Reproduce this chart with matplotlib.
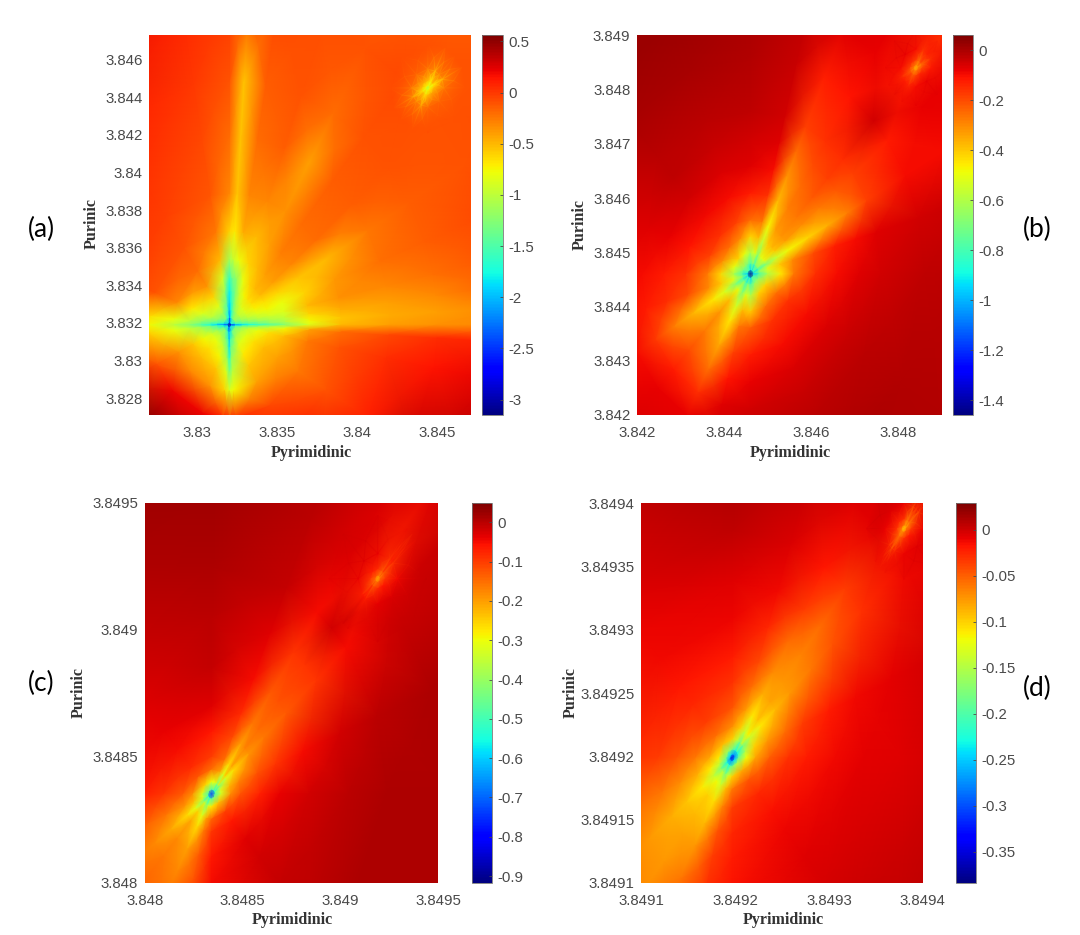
import matplotlib
matplotlib.use("Agg")
import matplotlib.pyplot as plt
import numpy as np

W, H = 1080, 935

# Every surface is read from the picture along rays leaving a dip: one row per
# angle (degrees, data axes), one column per distance from the dip.

# Panel (a)
a_center = (3.832, 3.8319)
a_r = [0, .00015, .0004, .0008, .0012, .0018, .0025, .0035, .005, .007, .010, .013, .017, .022]
a_theta = [0, 3, 7, 12, 20, 30, 40, 50, 60, 70, 80, 86, 90, 100, 125, 160, 175, 180, 185, 205, 225, 250, 265, 270, 275, 300, 330, 350, 357, 360]
a_z = [
[-3.1,-2.6,-2.2,-1.9,-1.75,-1.6,-1.45,-1.25,-.85,-.5,-.4,-.35,-.3,-.15],
[-3.1,-2.4,-1.9,-1.6,-1.5,-1.35,-1.2,-1.05,-.75,-.55,-.45,-.4,-.3,-.12],
[-3.1,-2.2,-1.7,-1.45,-1.3,-1.15,-1.05,-.95,-.6,-.45,-.4,-.32,-.15,-.05],
[-3.1,-2.0,-1.55,-1.3,-1.15,-1.0,-.9,-.85,-.5,-.35,-.3,-.22,-.1,0],
[-3.1,-1.9,-1.4,-1.15,-1.0,-.85,-.75,-.8,-.6,-.38,-.22,-.15,-.05,0],
[-3.1,-1.8,-1.3,-1.05,-.9,-.72,-.65,-.6,-.55,-.5,-.25,-.15,-.1,-.05],
[-3.1,-1.8,-1.25,-1.0,-.85,-.65,-.5,-.4,-.3,-.2,-.15,-.1,-.1,-.1],
[-3.1,-1.8,-1.25,-1.0,-.85,-.65,-.5,-.4,-.28,-.2,-.15,-.1,-.05,-.15],
[-3.1,-1.9,-1.35,-1.1,-.95,-.75,-.6,-.5,-.4,-.35,-.4,-.2,-.1,-.15],
[-3.1,-2.0,-1.5,-1.25,-1.1,-.95,-.8,-.6,-.5,-.3,-.15,-.1,-.08,-.08],
[-3.1,-2.2,-1.75,-1.55,-1.45,-1.35,-1.2,-.8,-.45,-.3,-.2,-.15,-.05,-.02],
[-3.1,-2.4,-2.0,-1.8,-1.7,-1.55,-1.35,-.95,-.7,-.55,-.55,-.55,-.1,-.03],
[-3.1,-2.6,-2.2,-2.0,-1.9,-1.8,-1.6,-1.1,-.6,-.3,-.2,-.1,0,.03],
[-3.1,-2.2,-1.75,-1.5,-1.35,-1.15,-.9,-.5,-.25,-.12,-.05,0,.08,.1],
[-3.1,-1.85,-1.3,-1.05,-.85,-.6,-.35,-.2,-.1,-.03,.05,.12,.25,.3],
[-3.1,-2.0,-1.5,-1.2,-1.0,-.85,-.7,-.3,-.1,0,.05,.1,.2,.3],
[-3.1,-2.2,-1.8,-1.55,-1.4,-1.2,-1.0,-.8,-.65,-.5,-.5,-.5,-.5,-.5],
[-3.1,-2.6,-2.2,-1.9,-1.7,-1.45,-1.2,-1.0,-.75,-.6,-.6,-.6,-.6,-.6],
[-3.1,-2.2,-1.8,-1.5,-1.3,-1.1,-.95,-.8,-.6,-.5,-.5,-.5,-.5,-.5],
[-3.1,-1.9,-1.4,-1.1,-.9,-.75,-.55,-.35,-.1,.3,.3,.3,.3,.3],
[-3.1,-1.8,-1.25,-1.0,-.8,-.65,-.5,-.3,.2,.5,.5,.5,.5,.5],
[-3.1,-2.0,-1.5,-1.2,-.95,-.75,-.55,-.35,.2,.4,.4,.4,.4,.4],
[-3.1,-2.3,-1.85,-1.55,-1.35,-1.1,-.85,-.6,.1,.3,.3,.3,.3,.3],
[-3.1,-2.6,-2.2,-2.0,-1.85,-1.6,-1.3,-.85,.05,.2,.2,.2,.2,.2],
[-3.1,-2.3,-1.85,-1.55,-1.35,-1.15,-1.0,-.75,.05,.15,.15,.15,.15,.15],
[-3.1,-1.9,-1.35,-1.05,-.85,-.7,-.55,-.4,-.05,.15,.2,.2,.2,.2],
[-3.1,-1.85,-1.25,-1.0,-.82,-.65,-.5,-.4,-.25,-.1,.1,.35,.45,.45],
[-3.1,-2.0,-1.45,-1.15,-.95,-.8,-.65,-.5,-.25,-.1,.05,.15,.25,.3],
[-3.1,-2.3,-1.8,-1.5,-1.3,-1.1,-.95,-.75,-.4,-.2,-.05,.05,.1,.15],
[-3.1,-2.6,-2.2,-1.9,-1.75,-1.6,-1.45,-1.25,-.85,-.5,-.4,-.35,-.3,-.15],
]
a2_center = (3.8444, 3.8445)
a2_r = [0, .00015, .0004, .001, .0024]
a2_theta = [0, 27, 45, 63, 90, 135, 180, 207, 225, 246, 270, 315, 360]
a2_z = [
[-1.0,-.75,-.5,-.3,-.15],
[-1.0,-.85,-.7,-.5,-.3],
[-1.0,-.75,-.5,-.35,-.2],
[-1.0,-.85,-.7,-.5,-.3],
[-1.0,-.75,-.5,-.3,-.1],
[-1.0,-.7,-.42,-.22,-.12],
[-1.0,-.75,-.5,-.3,-.12],
[-1.0,-.85,-.65,-.45,-.18],
[-1.0,-.75,-.5,-.35,-.15],
[-1.0,-.85,-.65,-.45,-.15],
[-1.0,-.75,-.5,-.25,-.07],
[-1.0,-.7,-.4,-.2,-.1],
[-1.0,-.75,-.5,-.3,-.15],
]
a_xticks = [3.83, 3.835, 3.84, 3.845]
a_xlabels = ["3.83", "3.835", "3.84", "3.845"]
a_yticks = [3.828, 3.83, 3.832, 3.834, 3.836, 3.838, 3.84, 3.842, 3.844, 3.846]
a_ylabels = ["3.828", "3.83", "3.832", "3.834", "3.836", "3.838", "3.84", "3.842", "3.844", "3.846"]
a_cticks = [0.5, 0, -0.5, -1, -1.5, -2, -2.5, -3]
a_clabels = ["0.5", "0", "-0.5", "-1", "-1.5", "-2", "-2.5", "-3"]

# Panel (b)
b_center = (3.8446, 3.8446)
b_r = [0, .00008, .0002, .0004, .0007, .001, .0015, .002, .0025, .003, .004, .005, .0063]
b_theta = [0, 15, 27, 38, 45, 55, 65, 75, 90, 110, 135, 160, 180, 195, 209, 225, 241, 255, 270, 300, 330, 360]
b_z = [
[-1.45,-.95,-.78,-.6,-.45,-.27,-.15,-.1,-.07,-.05,-.03,-.02,-.02],
[-1.45,-.85,-.7,-.52,-.4,-.3,-.2,-.13,-.1,-.07,-.05,-.04,-.03],
[-1.45,-.95,-.8,-.68,-.55,-.48,-.42,-.36,-.28,-.18,-.1,-.1,-.07],
[-1.45,-.85,-.7,-.52,-.4,-.33,-.3,-.27,-.22,-.18,-.12,-.08,-.08],
[-1.45,-.85,-.7,-.5,-.38,-.32,-.27,-.22,-.18,-.15,-.05,-.12,-.15],
[-1.45,-.85,-.7,-.52,-.4,-.33,-.28,-.25,-.2,-.16,-.11,-.08,-.06],
[-1.45,-.95,-.8,-.68,-.55,-.47,-.38,-.32,-.25,-.18,-.13,-.07,-.05],
[-1.45,-.85,-.7,-.52,-.38,-.27,-.16,-.1,-.07,-.05,-.04,-.03,-.03],
[-1.45,-.95,-.78,-.6,-.42,-.25,-.12,-.07,-.05,-.03,-.01,0,0],
[-1.45,-.85,-.7,-.5,-.3,-.18,-.1,-.06,-.04,-.02,0,.02,.02],
[-1.45,-.8,-.65,-.42,-.25,-.16,-.09,-.05,-.03,-.02,0,.02,.02],
[-1.45,-.85,-.7,-.5,-.3,-.18,-.11,-.08,-.07,-.06,-.05,-.05,-.05],
[-1.45,-.95,-.78,-.6,-.42,-.27,-.16,-.12,-.1,-.09,-.07,-.05,-.05],
[-1.45,-.85,-.7,-.52,-.4,-.3,-.2,-.15,-.12,-.1,-.08,-.06,-.06],
[-1.45,-.95,-.8,-.68,-.52,-.45,-.37,-.28,-.17,-.1,-.08,-.06,-.06],
[-1.45,-.85,-.7,-.5,-.38,-.32,-.27,-.2,-.12,-.08,-.06,-.05,-.05],
[-1.45,-.95,-.8,-.68,-.53,-.45,-.35,-.26,-.15,-.08,-.06,-.05,-.05],
[-1.45,-.85,-.7,-.52,-.38,-.27,-.18,-.11,-.07,-.05,-.05,-.05,-.05],
[-1.45,-.95,-.78,-.6,-.4,-.23,-.12,-.08,-.05,-.04,-.04,-.04,-.04],
[-1.45,-.8,-.65,-.42,-.25,-.16,-.1,-.06,-.04,-.02,0,0,0],
[-1.45,-.8,-.65,-.42,-.25,-.16,-.1,-.06,-.04,-.02,-.01,-.01,-.01],
[-1.45,-.95,-.78,-.6,-.45,-.27,-.15,-.1,-.07,-.05,-.03,-.02,-.02],
]
b2_center = (3.8484, 3.8484)
b2_r = [0, .00006, .00015, .00035, .0007]
b2_theta = [0, 27, 45, 63, 90, 135, 180, 207, 225, 243, 270, 315, 360]
b2_z = [
[-.38,-.28,-.2,-.12,-.07],
[-.38,-.32,-.25,-.17,-.1],
[-.38,-.28,-.2,-.14,-.09],
[-.38,-.32,-.25,-.17,-.12],
[-.38,-.28,-.18,-.1,-.06],
[-.38,-.25,-.15,-.08,-.05],
[-.38,-.28,-.18,-.1,-.07],
[-.38,-.3,-.22,-.15,-.08],
[-.38,-.28,-.2,-.13,-.07],
[-.38,-.3,-.22,-.15,-.08],
[-.38,-.28,-.18,-.1,-.07],
[-.38,-.25,-.14,-.08,-.06],
[-.38,-.28,-.2,-.12,-.07],
]
b_xticks = [3.842, 3.844, 3.846, 3.848]
b_xlabels = ["3.842", "3.844", "3.846", "3.848"]
b_yticks = [3.842, 3.843, 3.844, 3.845, 3.846, 3.847, 3.848, 3.849]
b_ylabels = ["3.842", "3.843", "3.844", "3.845", "3.846", "3.847", "3.848", "3.849"]
b_cticks = [0, -0.2, -0.4, -0.6, -0.8, -1, -1.2, -1.4]
b_clabels = ["0", "-0.2", "-0.4", "-0.6", "-0.8", "-1", "-1.2", "-1.4"]

# Panel (c)
c_center = (3.84834, 3.84835)
c_r = [0, .00002, .00005, .0001, .00015, .00025, .00035, .0005, .0007, .0009, .0012, .0017]
c_theta = [0, 20, 40, 47, 53, 65, 90, 135, 180, 200, 214, 225, 240, 255, 270, 315, 360]
c_z = [
[-.75,-.48,-.33,-.18,-.12,-.07,-.04,-.02,0,.01,.01,.01],
[-.75,-.47,-.33,-.22,-.17,-.12,-.09,-.05,-.02,0,.01,.01],
[-.75,-.55,-.42,-.32,-.26,-.19,-.16,-.13,-.09,-.05,-.02,-.01],
[-.75,-.48,-.34,-.25,-.21,-.17,-.15,-.12,-.09,-.02,-.08,-.03],
[-.75,-.55,-.42,-.32,-.26,-.2,-.16,-.13,-.09,-.05,-.03,-.02],
[-.75,-.47,-.32,-.2,-.15,-.11,-.08,-.05,-.03,-.01,0,.01],
[-.75,-.48,-.3,-.15,-.1,-.06,-.03,-.01,0,.01,.02,.03],
[-.75,-.42,-.25,-.12,-.08,-.05,-.04,-.03,-.02,-.01,.01,.03],
[-.75,-.48,-.32,-.18,-.13,-.09,-.07,-.05,-.05,-.05,-.05,-.05],
[-.75,-.47,-.33,-.23,-.19,-.16,-.14,-.12,-.1,-.08,-.07,-.07],
[-.75,-.55,-.42,-.31,-.26,-.21,-.18,-.15,-.13,-.11,-.1,-.1],
[-.75,-.48,-.34,-.25,-.21,-.18,-.16,-.14,-.12,-.11,-.1,-.1],
[-.75,-.55,-.42,-.31,-.26,-.2,-.18,-.15,-.12,-.1,-.1,-.1],
[-.75,-.47,-.32,-.2,-.16,-.13,-.12,-.1,-.08,-.07,-.07,-.07],
[-.75,-.48,-.28,-.14,-.09,-.06,-.05,-.05,-.05,-.05,-.05,-.05],
[-.75,-.42,-.23,-.1,-.06,-.03,-.02,-.01,0,.01,.01,.01],
[-.75,-.48,-.33,-.18,-.12,-.07,-.04,-.02,0,.01,.01,.01],
]
c2_center = (3.84919, 3.8492)
c2_r = [0, .000015, .00004, .0001, .00025]
c2_theta = [0, 38, 45, 52, 90, 135, 180, 218, 225, 232, 270, 315, 360]
c2_z = [
[-.22,-.14,-.09,-.05,-.01],
[-.22,-.17,-.13,-.09,-.05],
[-.22,-.14,-.1,-.07,-.1],
[-.22,-.17,-.13,-.09,-.05],
[-.22,-.14,-.08,-.04,-.01],
[-.22,-.12,-.07,-.03,-.01],
[-.22,-.14,-.09,-.04,-.02],
[-.22,-.16,-.12,-.07,-.03],
[-.22,-.14,-.09,-.06,0],
[-.22,-.16,-.12,-.07,-.03],
[-.22,-.14,-.08,-.04,-.01],
[-.22,-.12,-.06,-.03,-.01],
[-.22,-.14,-.09,-.05,-.01],
]
c_xticks = [3.848, 3.8485, 3.849, 3.8495]
c_xlabels = ["3.848", "3.8485", "3.849", "3.8495"]
c_yticks = [3.848, 3.8485, 3.849, 3.8495]
c_ylabels = ["3.848", "3.8485", "3.849", "3.8495"]
c_cticks = [0, -0.1, -0.2, -0.3, -0.4, -0.5, -0.6, -0.7, -0.8, -0.9]
c_clabels = ["0", "-0.1", "-0.2", "-0.3", "-0.4", "-0.5", "-0.6", "-0.7", "-0.8", "-0.9"]

# Panel (d)
d_center = (3.849197, 3.849199)
d_r = [0, .000003, .000007, .000015, .000025, .00004, .00006, .00008, .00011, .00014, .00018, .00024, .0003]
d_theta = [0, 20, 40, 48, 57, 70, 90, 135, 180, 200, 216, 228, 240, 255, 270, 315, 360]
d_z = [
[-.35,-.26,-.19,-.12,-.08,-.05,-.03,-.02,-.012,-.008,-.005,0,0],
[-.35,-.27,-.21,-.15,-.1,-.075,-.055,-.035,-.02,-.012,-.007,0,0],
[-.35,-.28,-.23,-.18,-.14,-.11,-.09,-.075,-.06,-.045,-.03,-.012,-.005],
[-.35,-.27,-.21,-.15,-.115,-.095,-.08,-.075,-.065,-.055,-.035,-.008,0],
[-.35,-.28,-.23,-.18,-.14,-.11,-.085,-.07,-.055,-.035,-.018,-.005,0],
[-.35,-.27,-.21,-.14,-.1,-.075,-.055,-.04,-.025,-.012,-.004,.005,.01],
[-.35,-.26,-.18,-.1,-.07,-.045,-.03,-.02,-.01,-.005,.005,.015,.018],
[-.35,-.24,-.16,-.09,-.055,-.035,-.025,-.018,-.012,-.01,-.006,-.003,-.003],
[-.35,-.25,-.18,-.11,-.08,-.06,-.045,-.035,-.03,-.03,-.03,-.03,-.03],
[-.35,-.27,-.2,-.14,-.11,-.085,-.07,-.06,-.055,-.05,-.05,-.05,-.05],
[-.35,-.28,-.23,-.175,-.14,-.11,-.095,-.085,-.075,-.065,-.055,-.055,-.055],
[-.35,-.27,-.21,-.15,-.12,-.1,-.09,-.08,-.075,-.07,-.07,-.07,-.07],
[-.35,-.28,-.23,-.175,-.135,-.105,-.09,-.075,-.06,-.05,-.05,-.05,-.05],
[-.35,-.27,-.2,-.13,-.09,-.065,-.045,-.035,-.028,-.025,-.025,-.025,-.025],
[-.35,-.26,-.18,-.1,-.06,-.035,-.025,-.02,-.016,-.015,-.015,-.015,-.015],
[-.35,-.24,-.15,-.08,-.045,-.025,-.015,-.01,-.006,-.003,.002,.008,.012],
[-.35,-.26,-.19,-.12,-.08,-.05,-.03,-.02,-.012,-.008,-.005,0,0],
]
d2_center = (3.84938, 3.84938)
d2_r = [0, .000003, .000008, .00002, .00004]
d2_theta = [0, 40, 50, 60, 90, 135, 180, 220, 230, 240, 270, 315, 360]
d2_z = [
[-.1,-.06,-.035,-.012,0],
[-.1,-.08,-.06,-.04,-.02],
[-.1,-.07,-.05,-.03,-.03],
[-.1,-.08,-.06,-.04,-.02],
[-.1,-.06,-.03,-.01,.01],
[-.1,-.05,-.025,-.005,.01],
[-.1,-.06,-.03,-.01,.01],
[-.1,-.07,-.05,-.03,-.01],
[-.1,-.07,-.055,-.045,-.02],
[-.1,-.07,-.05,-.03,-.01],
[-.1,-.06,-.03,-.01,0],
[-.1,-.05,-.02,-.005,0],
[-.1,-.06,-.035,-.012,0],
]
d_xticks = [3.8491, 3.8492, 3.8493, 3.8494]
d_xlabels = ["3.8491", "3.8492", "3.8493", "3.8494"]
d_yticks = [3.8491, 3.84915, 3.8492, 3.84925, 3.8493, 3.84935, 3.8494]
d_ylabels = ["3.8491", "3.84915", "3.8492", "3.84925", "3.8493", "3.84935", "3.8494"]
d_cticks = [0, -0.05, -0.1, -0.15, -0.2, -0.25, -0.3, -0.35]
d_clabels = ["0", "-0.05", "-0.1", "-0.15", "-0.2", "-0.25", "-0.3", "-0.35"]

XLABEL = "Pyrimidinic"
YLABEL = "Purinic"
GREY = "#4a4a4a"
PATCH_FADE = [1, 1, 1, 0.6, 0]  # opacity of the second dip by distance ring

plt.rcParams["font.family"] = ["Liberation Sans"]
fig = plt.figure(figsize=(W / 100, H / 100), dpi=100, facecolor="white")


def rect(l, t, r, b):
    return [l / W, 1 - b / H, (r - l) / W, (b - t) / H]


def star(ax, center, r, theta, z, clim, fade=None):
    t, rr = np.meshgrid(np.radians(theta), r)
    m = ax.pcolormesh(center[0] + rr * np.cos(t), center[1] + rr * np.sin(t),
                      np.array(z, float).T, shading="gouraud", cmap="jet",
                      vmin=clim[0], vmax=clim[1])
    if fade is not None:
        m.set_alpha(np.tile(np.array(fade)[:, None], (1, len(theta))))
    return m


def panel(main, second, xlim, ylim, clim, xt, xl, yt, yl, ct, cl, box, cbox, xlab, ylab):
    ax = fig.add_axes(rect(*box))
    mesh = star(ax, *main, clim)
    star(ax, *second, clim, PATCH_FADE)
    ax.set_xlim(xlim)
    ax.set_ylim(ylim)
    ax.set_xticks(xt, xl)
    ax.set_yticks(yt, yl)
    ax.tick_params(axis="x", length=0, pad=8, labelsize=10.8, labelcolor=GREY)
    ax.tick_params(axis="y", length=0, pad=5, labelsize=10.8, labelcolor=GREY)
    for s in ax.spines.values():
        s.set_visible(False)
    cax = fig.add_axes(rect(*cbox))
    cb = fig.colorbar(mesh, cax=cax)
    cb.set_ticks(ct, labels=cl)
    cb.ax.tick_params(length=2, width=0.6, direction="in", pad=4, labelsize=10.8,
                      labelcolor=GREY, color=GREY)
    cb.outline.set_edgecolor("#777777")
    cb.outline.set_linewidth(0.6)
    fig.text(xlab[0] / W, 1 - xlab[1] / H, XLABEL, family="Liberation Serif", weight="bold",
             fontsize=11.5, color="#333333", ha="center", va="center")
    fig.text(ylab[0] / W, 1 - ylab[1] / H, YLABEL, family="Liberation Serif", weight="bold",
             fontsize=11.5, color="#333333", ha="center", va="center", rotation=90)


panel((a_center, a_r, a_theta, a_z), (a2_center, a2_r, a2_theta, a2_z),
      (3.827, 3.8471), (3.8271, 3.8473), (-3.15, 0.56),
      a_xticks, a_xlabels, a_yticks, a_ylabels, a_cticks, a_clabels,
      (149.3, 35.3, 471, 415), (482, 35.3, 502.7, 415), (311, 452.7), (92, 224))
panel((b_center, b_r, b_theta, b_z), (b2_center, b2_r, b2_theta, b2_z),
      (3.842, 3.849), (3.842, 3.849), (-1.46, 0.059),
      b_xticks, b_xlabels, b_yticks, b_ylabels, b_cticks, b_clabels,
      (637.3, 35.3, 942, 415), (953, 35.3, 973, 415), (790, 452.7), (580, 225))
panel((c_center, c_r, c_theta, c_z), (c2_center, c2_r, c2_theta, c2_z),
      (3.848, 3.8495), (3.848, 3.8495), (-0.917, 0.05),
      c_xticks, c_xlabels, c_yticks, c_ylabels, c_cticks, c_clabels,
      (145, 502.7, 438.3, 882.7), (472, 502.7, 492, 882.7), (292, 920), (79, 692))
panel((d_center, d_r, d_theta, d_z), (d2_center, d2_r, d2_theta, d2_z),
      (3.8491, 3.8494), (3.8491, 3.8494), (-0.384, 0.029),
      d_xticks, d_xlabels, d_yticks, d_ylabels, d_cticks, d_clabels,
      (641.3, 503.3, 922.7, 883), (956, 503.3, 976, 883), (783, 920), (571, 692))

for s, px, py in [("(a)", 41, 229), ("(b)", 1037, 229), ("(c)", 41, 683), ("(d)", 1037, 688)]:
    fig.text(px / W, 1 - py / H, s, family="Lato", fontsize=19, color="black", ha="center", va="center")

fig.savefig("out.png", dpi=100)
